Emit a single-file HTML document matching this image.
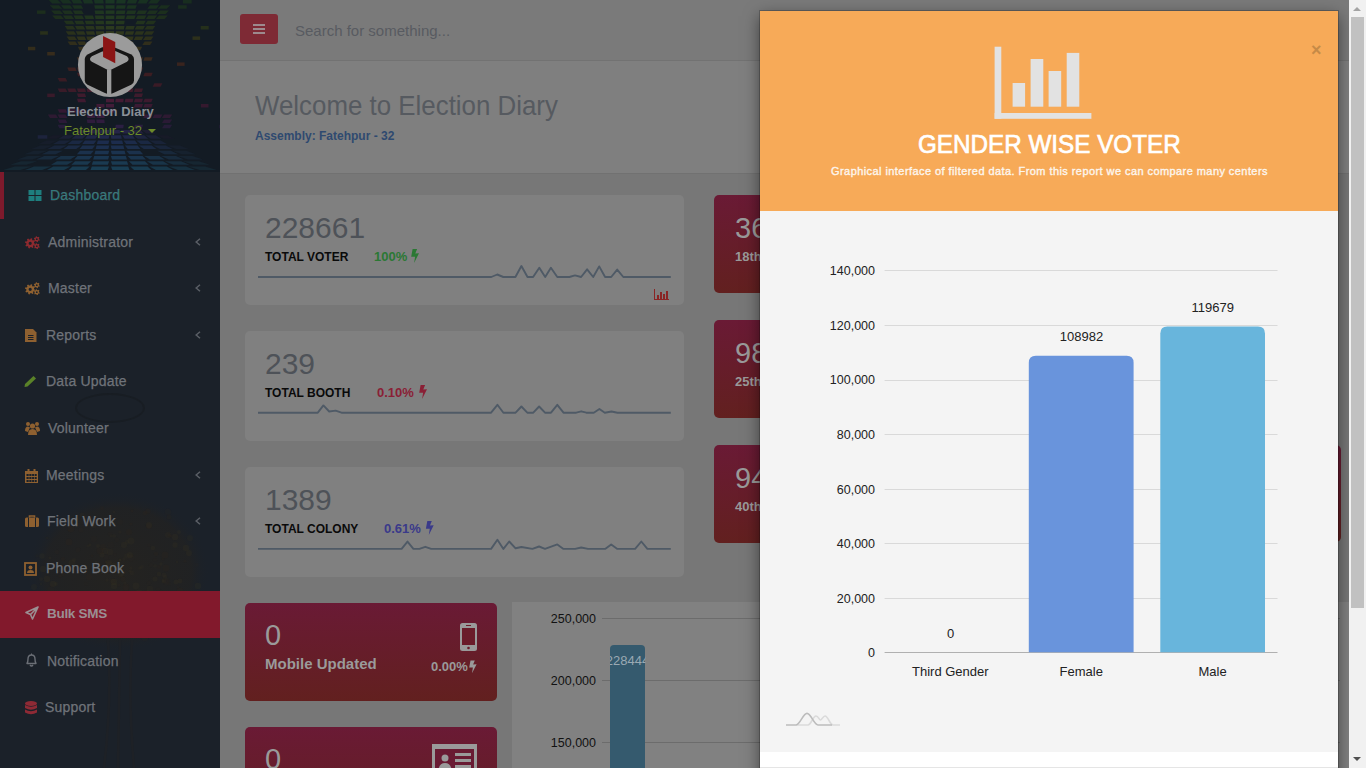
<!DOCTYPE html>
<html><head><meta charset="utf-8">
<style>
*{box-sizing:border-box;margin:0;padding:0}
html,body{width:1366px;height:768px;overflow:hidden;background:#777;font-family:"Liberation Sans",sans-serif}
.a{position:absolute}
.t{position:absolute;white-space:nowrap;line-height:1}
#side{left:0;top:0;width:220px;height:768px;background:#1b2129;overflow:hidden}
#sidehead{left:0;top:0;width:220px;height:172px;background:#131b24;overflow:hidden}
.mi{position:absolute;left:0;width:220px;height:47px}
.mt{position:absolute;font-size:14px;color:#6f7379;white-space:nowrap;line-height:1;letter-spacing:0.2px;-webkit-text-stroke:0.25px #6f7379}
.ic{position:absolute}
.chev{position:absolute;left:195px}
#hdr{left:220px;top:0;width:1129px;height:61px;background:#7a7a7a;border-bottom:1px solid #727272}
#wel{left:220px;top:61px;width:1129px;height:113px;background:#7f7f7f;border-bottom:1px solid #717171}
.card{position:absolute;background:#808080;border-radius:5px}
.red{position:absolute;border-radius:5px;background:linear-gradient(#6a1a35,#62201f)}
#modal{left:760px;top:11px;width:578px;height:770px;background:#f4f4f4;box-shadow:0 0 0 1px rgba(0,0,0,.2),0 5px 15px rgba(0,0,0,.5)}
#mh{left:0;top:0;width:578px;height:200px;background:#f7aa58}
#sb{left:1349px;top:0;width:17px;height:768px;background:#f1f1f1}
</style></head><body>
<!-- SIDEBAR -->
<div id="side" class="a">
  <div id="sidehead" class="a"><svg width="220" height="172" viewBox="0 0 220 172" style="position:absolute;left:0;top:0"><path d="M48.7 0.0h9.2l3.4 3.5h-9.2z" fill="rgb(24, 46, 32)"/><path d="M60.0 0.0h9.2l2.8 3.5h-9.2z" fill="rgb(24, 47, 32)"/><path d="M71.3 0.0h9.2l2.1 3.5h-9.2z" fill="rgb(24, 49, 33)"/><path d="M82.7 0.0h9.2l1.4 3.5h-9.2z" fill="rgb(25, 50, 34)"/><path d="M94.0 0.0h9.2l0.7 3.5h-9.2z" fill="rgb(25, 52, 35)"/><path d="M105.4 0.0h9.2l-0.0 3.5h-9.2z" fill="rgb(26, 54, 36)"/><path d="M116.7 0.0h9.2l-0.7 3.5h-9.2z" fill="rgb(25, 52, 35)"/><path d="M128.1 0.0h9.2l-1.4 3.5h-9.2z" fill="rgb(25, 50, 34)"/><path d="M139.4 0.0h9.2l-2.1 3.5h-9.2z" fill="rgb(24, 49, 33)"/><path d="M150.8 0.0h9.2l-2.8 3.5h-9.2z" fill="rgb(24, 47, 32)"/><rect x="182.9" y="0.0" width="8.8" height="3.5" fill="rgb(24, 45, 31)"/><path d="M49.8 5.2h9.1l3.4 3.5h-9.1z" fill="rgb(26, 46, 30)"/><path d="M61.0 5.2h9.1l2.7 3.5h-9.1z" fill="rgb(26, 48, 31)"/><path d="M72.1 5.2h9.1l2.0 3.5h-9.1z" fill="rgb(27, 49, 31)"/><path d="M94.3 5.2h9.1l0.7 3.5h-9.1z" fill="rgb(28, 53, 33)"/><path d="M105.5 5.2h9.1l-0.0 3.5h-9.1z" fill="rgb(29, 55, 34)"/><path d="M116.6 5.2h9.1l-0.7 3.5h-9.1z" fill="rgb(28, 53, 33)"/><path d="M127.7 5.2h9.1l-1.3 3.5h-9.1z" fill="rgb(27, 51, 32)"/><path d="M150.0 5.2h9.1l-2.7 3.5h-9.1z" fill="rgb(26, 48, 31)"/><path d="M161.1 5.2h9.1l-3.4 3.5h-9.1z" fill="rgb(26, 46, 30)"/><rect x="178.1" y="5.2" width="8.6" height="3.5" fill="rgb(26, 45, 30)"/><path d="M51.0 10.4h8.9l3.3 3.5h-8.9z" fill="rgb(28, 47, 29)"/><path d="M61.9 10.4h8.9l2.6 3.5h-8.9z" fill="rgb(29, 48, 30)"/><path d="M72.8 10.4h8.9l2.0 3.5h-8.9z" fill="rgb(30, 50, 30)"/><path d="M94.6 10.4h8.9l0.7 3.5h-8.9z" fill="rgb(31, 54, 32)"/><path d="M105.6 10.4h8.9l-0.0 3.5h-8.9z" fill="rgb(32, 56, 33)"/><path d="M116.5 10.4h8.9l-0.7 3.5h-8.9z" fill="rgb(31, 54, 32)"/><path d="M127.4 10.4h8.9l-1.3 3.5h-8.9z" fill="rgb(30, 52, 31)"/><path d="M138.3 10.4h8.9l-2.0 3.5h-8.9z" fill="rgb(30, 50, 30)"/><path d="M149.2 10.4h8.9l-2.6 3.5h-8.9z" fill="rgb(29, 48, 30)"/><path d="M160.1 10.4h8.9l-3.3 3.5h-8.9z" fill="rgb(28, 47, 29)"/><rect x="37.0" y="10.4" width="8.5" height="3.5" fill="rgb(28, 46, 29)"/><path d="M52.1 15.6h8.7l3.2 3.5h-8.7z" fill="rgb(30, 47, 28)"/><path d="M62.8 15.6h8.7l2.6 3.5h-8.7z" fill="rgb(31, 49, 29)"/><path d="M73.5 15.6h8.7l1.9 3.5h-8.7z" fill="rgb(32, 51, 29)"/><path d="M84.2 15.6h8.7l1.3 3.5h-8.7z" fill="rgb(33, 53, 30)"/><path d="M94.9 15.6h8.7l0.6 3.5h-8.7z" fill="rgb(34, 55, 31)"/><path d="M105.6 15.6h8.7l-0.0 3.5h-8.7z" fill="rgb(35, 57, 32)"/><path d="M116.3 15.6h8.7l-0.6 3.5h-8.7z" fill="rgb(34, 55, 31)"/><path d="M127.0 15.6h8.7l-1.3 3.5h-8.7z" fill="rgb(33, 53, 30)"/><path d="M137.7 15.6h8.7l-1.9 3.5h-8.7z" fill="rgb(32, 51, 29)"/><path d="M148.4 15.6h8.7l-2.6 3.5h-8.7z" fill="rgb(31, 49, 29)"/><path d="M159.1 15.6h8.7l-3.2 3.5h-8.7z" fill="rgb(30, 47, 28)"/><path d="M63.8 20.8h8.5l2.5 3.5h-8.5z" fill="rgb(33, 49, 28)"/><path d="M74.3 20.8h8.5l1.9 3.5h-8.5z" fill="rgb(34, 51, 29)"/><path d="M84.8 20.8h8.5l1.3 3.5h-8.5z" fill="rgb(35, 53, 29)"/><path d="M95.2 20.8h8.5l0.6 3.5h-8.5z" fill="rgb(36, 55, 30)"/><path d="M105.7 20.8h8.5l-0.0 3.5h-8.5z" fill="rgb(38, 58, 31)"/><path d="M116.2 20.8h8.5l-0.6 3.5h-8.5z" fill="rgb(36, 55, 30)"/><path d="M137.2 20.8h8.5l-1.9 3.5h-8.5z" fill="rgb(34, 51, 29)"/><path d="M147.7 20.8h8.5l-2.5 3.5h-8.5z" fill="rgb(33, 49, 28)"/><path d="M64.7 26.0h8.4l2.5 3.5h-8.4z" fill="rgb(38, 49, 28)"/><path d="M75.0 26.0h8.4l1.9 3.5h-8.4z" fill="rgb(39, 51, 28)"/><path d="M85.3 26.0h8.4l1.2 3.5h-8.4z" fill="rgb(41, 53, 29)"/><path d="M95.5 26.0h8.4l0.6 3.5h-8.4z" fill="rgb(42, 55, 30)"/><path d="M105.8 26.0h8.4l-0.0 3.5h-8.4z" fill="rgb(44, 58, 31)"/><path d="M116.1 26.0h8.4l-0.6 3.5h-8.4z" fill="rgb(42, 55, 30)"/><path d="M126.4 26.0h8.4l-1.2 3.5h-8.4z" fill="rgb(41, 53, 29)"/><path d="M136.6 26.0h8.4l-1.9 3.5h-8.4z" fill="rgb(39, 51, 28)"/><path d="M146.9 26.0h8.4l-2.5 3.5h-8.4z" fill="rgb(38, 49, 28)"/><rect x="200.7" y="26.0" width="8.0" height="3.5" fill="rgb(37, 48, 27)"/><path d="M65.7 31.2h8.2l2.4 3.5h-8.2z" fill="rgb(42, 49, 27)"/><path d="M75.7 31.2h8.2l1.8 3.5h-8.2z" fill="rgb(43, 51, 28)"/><path d="M85.8 31.2h8.2l1.2 3.5h-8.2z" fill="rgb(45, 53, 28)"/><path d="M95.8 31.2h8.2l0.6 3.5h-8.2z" fill="rgb(47, 55, 29)"/><path d="M105.9 31.2h8.2l-0.0 3.5h-8.2z" fill="rgb(49, 58, 30)"/><path d="M116.0 31.2h8.2l-0.6 3.5h-8.2z" fill="rgb(47, 55, 29)"/><path d="M126.0 31.2h8.2l-1.2 3.5h-8.2z" fill="rgb(45, 53, 28)"/><path d="M136.1 31.2h8.2l-1.8 3.5h-8.2z" fill="rgb(43, 51, 28)"/><path d="M146.1 31.2h8.2l-2.4 3.5h-8.2z" fill="rgb(42, 49, 27)"/><rect x="40.1" y="31.2" width="7.8" height="3.5" fill="rgb(41, 48, 27)"/><path d="M66.6 36.4h8.0l2.4 3.5h-8.0z" fill="rgb(45, 48, 27)"/><path d="M76.5 36.4h8.0l1.8 3.5h-8.0z" fill="rgb(47, 51, 27)"/><path d="M86.3 36.4h8.0l1.2 3.5h-8.0z" fill="rgb(49, 53, 28)"/><path d="M96.1 36.4h8.0l0.6 3.5h-8.0z" fill="rgb(51, 55, 29)"/><path d="M106.0 36.4h8.0l-0.0 3.5h-8.0z" fill="rgb(54, 58, 30)"/><path d="M115.8 36.4h8.0l-0.6 3.5h-8.0z" fill="rgb(51, 55, 29)"/><path d="M125.7 36.4h8.0l-1.2 3.5h-8.0z" fill="rgb(49, 53, 28)"/><path d="M135.5 36.4h8.0l-1.8 3.5h-8.0z" fill="rgb(47, 51, 27)"/><path d="M145.4 36.4h8.0l-2.4 3.5h-8.0z" fill="rgb(45, 48, 27)"/><rect x="192.5" y="36.4" width="7.6" height="3.5" fill="rgb(45, 48, 27)"/><path d="M67.6 41.6h7.8l2.3 3.5h-7.8z" fill="rgb(49, 46, 27)"/><path d="M77.2 41.6h7.8l1.8 3.5h-7.8z" fill="rgb(51, 49, 27)"/><path d="M96.5 41.6h7.8l0.6 3.5h-7.8z" fill="rgb(56, 53, 29)"/><path d="M106.1 41.6h7.8l-0.0 3.5h-7.8z" fill="rgb(59, 56, 30)"/><path d="M115.7 41.6h7.8l-0.6 3.5h-7.8z" fill="rgb(56, 53, 29)"/><path d="M125.3 41.6h7.8l-1.2 3.5h-7.8z" fill="rgb(54, 51, 28)"/><path d="M144.6 41.6h7.8l-2.3 3.5h-7.8z" fill="rgb(49, 46, 27)"/><path d="M77.9 46.8h7.7l1.7 3.5h-7.7z" fill="rgb(54, 48, 28)"/><path d="M87.3 46.8h7.7l1.1 3.5h-7.7z" fill="rgb(57, 50, 29)"/><path d="M96.8 46.8h7.7l0.6 3.5h-7.7z" fill="rgb(60, 52, 30)"/><path d="M106.2 46.8h7.7l-0.0 3.5h-7.7z" fill="rgb(63, 55, 31)"/><path d="M115.6 46.8h7.7l-0.6 3.5h-7.7z" fill="rgb(60, 52, 30)"/><path d="M125.0 46.8h7.7l-1.1 3.5h-7.7z" fill="rgb(57, 50, 29)"/><path d="M134.4 46.8h7.7l-1.7 3.5h-7.7z" fill="rgb(54, 48, 28)"/><rect x="28.0" y="46.8" width="7.3" height="3.5" fill="rgb(51, 45, 27)"/><path d="M96.3 52.0h8.0l0.4 3.5h-8.0z" fill="rgb(64, 50, 31)"/><path d="M115.7 52.0h8.0l-0.4 3.5h-8.0z" fill="rgb(64, 50, 31)"/><rect x="47.2" y="52.0" width="7.6" height="3.5" fill="rgb(55, 44, 28)"/><path d="M77.0 57.2h8.0l1.1 3.5h-8.0z" fill="rgb(60, 42, 30)"/><path d="M115.7 57.2h8.0l-0.4 3.5h-8.0z" fill="rgb(66, 46, 32)"/><path d="M135.0 57.2h8.0l-1.1 3.5h-8.0z" fill="rgb(60, 42, 30)"/><path d="M144.7 57.2h8.0l-1.4 3.5h-8.0z" fill="rgb(57, 40, 29)"/><path d="M106.0 62.4h8.0l-0.0 3.5h-8.0z" fill="rgb(70, 42, 35)"/><path d="M115.7 62.4h8.0l-0.4 3.5h-8.0z" fill="rgb(67, 40, 34)"/><rect x="177.0" y="62.4" width="7.6" height="3.5" fill="rgb(57, 36, 30)"/><path d="M67.3 67.6h8.0l1.4 3.5h-8.0z" fill="rgb(59, 32, 32)"/><path d="M77.0 67.6h8.0l1.1 3.5h-8.0z" fill="rgb(62, 33, 33)"/><path d="M96.3 67.6h8.0l0.4 3.5h-8.0z" fill="rgb(68, 35, 35)"/><path d="M115.7 67.6h8.0l-0.4 3.5h-8.0z" fill="rgb(68, 35, 35)"/><path d="M125.4 67.6h8.0l-0.7 3.5h-8.0z" fill="rgb(65, 34, 34)"/><path d="M135.0 67.6h8.0l-1.1 3.5h-8.0z" fill="rgb(62, 33, 33)"/><path d="M77.0 72.8h8.0l1.1 3.5h-8.0z" fill="rgb(62, 30, 35)"/><path d="M96.3 72.8h8.0l0.4 3.5h-8.0z" fill="rgb(68, 32, 37)"/><path d="M125.4 72.8h8.0l-0.7 3.5h-8.0z" fill="rgb(65, 31, 36)"/><path d="M144.7 72.8h8.0l-1.4 3.5h-8.0z" fill="rgb(60, 29, 34)"/><path d="M57.6 78.0h8.0l1.8 3.5h-8.0z" fill="rgb(57, 28, 36)"/><path d="M86.7 78.0h8.0l0.7 3.5h-8.0z" fill="rgb(65, 30, 39)"/><path d="M96.3 78.0h8.0l0.4 3.5h-8.0z" fill="rgb(68, 31, 40)"/><path d="M106.0 78.0h8.0l-0.0 3.5h-8.0z" fill="rgb(71, 32, 42)"/><path d="M115.7 78.0h8.0l-0.4 3.5h-8.0z" fill="rgb(68, 31, 40)"/><path d="M86.7 83.2h8.0l0.7 3.5h-8.0z" fill="rgb(65, 29, 42)"/><path d="M96.3 83.2h8.0l0.4 3.5h-8.0z" fill="rgb(68, 30, 43)"/><path d="M115.7 83.2h8.0l-0.4 3.5h-8.0z" fill="rgb(68, 30, 43)"/><path d="M154.4 83.2h8.0l-1.8 3.5h-8.0z" fill="rgb(58, 27, 38)"/><path d="M57.6 88.4h8.0l1.8 3.5h-8.0z" fill="rgb(57, 27, 40)"/><path d="M67.3 88.4h8.0l1.4 3.5h-8.0z" fill="rgb(60, 27, 41)"/><path d="M77.0 88.4h8.0l1.1 3.5h-8.0z" fill="rgb(62, 28, 42)"/><path d="M86.7 88.4h8.0l0.7 3.5h-8.0z" fill="rgb(65, 28, 44)"/><path d="M96.3 88.4h8.0l0.4 3.5h-8.0z" fill="rgb(67, 29, 45)"/><path d="M115.7 88.4h8.0l-0.4 3.5h-8.0z" fill="rgb(67, 29, 45)"/><path d="M125.4 88.4h8.0l-0.7 3.5h-8.0z" fill="rgb(65, 28, 44)"/><path d="M135.0 88.4h8.0l-1.1 3.5h-8.0z" fill="rgb(62, 28, 42)"/><path d="M77.0 93.6h8.0l1.1 3.5h-8.0z" fill="rgb(63, 27, 45)"/><path d="M135.0 93.6h8.0l-1.1 3.5h-8.0z" fill="rgb(63, 27, 45)"/><rect x="47.2" y="93.6" width="7.6" height="3.5" fill="rgb(57, 26, 42)"/><path d="M77.0 98.8h8.0l1.1 3.5h-8.0z" fill="rgb(63, 26, 48)"/><path d="M106.0 98.8h8.0l-0.0 3.5h-8.0z" fill="rgb(70, 28, 53)"/><path d="M115.7 98.8h8.0l-0.4 3.5h-8.0z" fill="rgb(67, 27, 51)"/><path d="M125.4 98.8h8.0l-0.7 3.5h-8.0z" fill="rgb(65, 27, 49)"/><path d="M135.0 98.8h8.0l-1.1 3.5h-8.0z" fill="rgb(63, 26, 48)"/><path d="M144.7 98.8h8.0l-1.4 3.5h-8.0z" fill="rgb(61, 26, 46)"/><path d="M96.3 104.0h8.0l0.4 3.5h-8.0z" fill="rgb(63, 27, 54)"/><path d="M106.0 104.0h8.0l-0.0 3.5h-8.0z" fill="rgb(65, 28, 56)"/><path d="M135.0 104.0h8.0l-1.1 3.5h-8.0z" fill="rgb(59, 26, 51)"/><path d="M144.7 104.0h8.0l-1.4 3.5h-8.0z" fill="rgb(57, 26, 49)"/><rect x="200.9" y="104.0" width="7.6" height="3.5" fill="rgb(53, 25, 46)"/><path d="M57.6 109.2h8.0l1.8 3.5h-8.0z" fill="rgb(51, 25, 50)"/><path d="M67.3 109.2h8.0l1.4 3.5h-8.0z" fill="rgb(53, 26, 52)"/><path d="M77.0 109.2h8.0l1.1 3.5h-8.0z" fill="rgb(54, 26, 54)"/><path d="M106.0 109.2h8.0l-0.0 3.5h-8.0z" fill="rgb(60, 28, 59)"/><path d="M47.9 114.4h8.0l2.1 3.5h-8.0z" fill="rgb(46, 26, 50)"/><path d="M57.6 114.4h8.0l1.8 3.5h-8.0z" fill="rgb(47, 26, 52)"/><path d="M86.7 114.4h8.0l0.7 3.5h-8.0z" fill="rgb(52, 28, 57)"/><path d="M96.3 114.4h8.0l0.4 3.5h-8.0z" fill="rgb(53, 28, 59)"/><path d="M144.7 114.4h8.0l-1.4 3.5h-8.0z" fill="rgb(49, 27, 54)"/><path d="M154.4 114.4h8.0l-1.8 3.5h-8.0z" fill="rgb(47, 26, 52)"/><path d="M164.1 114.4h8.0l-2.1 3.5h-8.0z" fill="rgb(46, 26, 50)"/><path d="M57.6 119.6h8.0l1.8 3.5h-8.0z" fill="rgb(43, 26, 55)"/><path d="M86.7 119.6h8.0l0.7 3.5h-8.0z" fill="rgb(47, 28, 60)"/><path d="M96.3 119.6h8.0l0.4 3.5h-8.0z" fill="rgb(48, 28, 62)"/><path d="M164.1 119.6h8.0l-2.1 3.5h-8.0z" fill="rgb(42, 26, 53)"/><path d="M57.6 124.8h8.0l1.8 3.5h-8.0z" fill="rgb(39, 29, 58)"/><path d="M115.7 124.8h8.0l-0.4 3.5h-8.0z" fill="rgb(43, 31, 66)"/><path d="M135.0 124.8h8.0l-1.1 3.5h-8.0z" fill="rgb(41, 30, 62)"/><path d="M164.1 124.8h8.0l-2.1 3.5h-8.0z" fill="rgb(38, 28, 56)"/><rect x="219.3" y="124.8" width="7.6" height="3.5" fill="rgb(37, 28, 55)"/><path d="M79.6 130.0h9.2l-3.4 3.5h-9.2z" fill="rgb(33, 32, 60)"/><path d="M89.9 130.0h9.2l-2.1 3.5h-9.2z" fill="rgb(36, 35, 67)"/><path d="M100.2 130.0h9.2l-0.7 3.5h-9.2z" fill="rgb(37, 36, 71)"/><path d="M110.5 130.0h9.2l0.7 3.5h-9.2z" fill="rgb(37, 36, 71)"/><path d="M120.8 130.0h9.2l2.1 3.5h-9.2z" fill="rgb(36, 35, 67)"/><path d="M131.2 130.0h9.2l3.4 3.5h-9.2z" fill="rgb(33, 32, 60)"/><path d="M141.5 130.0h9.2l4.8 3.5h-9.2z" fill="rgb(29, 29, 49)"/><path d="M52.7 135.2h10.4l-7.0 3.5h-10.4z" fill="rgb(23, 26, 39)"/><path d="M64.2 135.2h10.4l-5.4 3.5h-10.4z" fill="rgb(27, 32, 53)"/><path d="M75.8 135.2h10.4l-3.9 3.5h-10.4z" fill="rgb(30, 36, 63)"/><path d="M87.4 135.2h10.4l-2.3 3.5h-10.4z" fill="rgb(31, 39, 71)"/><path d="M99.0 135.2h10.4l-0.8 3.5h-10.4z" fill="rgb(32, 40, 74)"/><path d="M110.6 135.2h10.4l0.8 3.5h-10.4z" fill="rgb(32, 40, 74)"/><path d="M122.2 135.2h10.4l2.3 3.5h-10.4z" fill="rgb(31, 39, 71)"/><path d="M133.8 135.2h10.4l3.9 3.5h-10.4z" fill="rgb(30, 36, 63)"/><path d="M145.4 135.2h10.4l5.4 3.5h-10.4z" fill="rgb(27, 32, 53)"/><path d="M157.0 135.2h10.4l7.0 3.5h-10.4z" fill="rgb(23, 26, 39)"/><rect x="37.7" y="135.2" width="9.6" height="3.5" fill="rgb(29, 35, 60)"/><path d="M46.3 140.4h11.5l-7.7 3.5h-11.5z" fill="rgb(22, 29, 42)"/><path d="M59.2 140.4h11.5l-6.0 3.5h-11.5z" fill="rgb(25, 35, 56)"/><path d="M72.1 140.4h11.5l-4.3 3.5h-11.5z" fill="rgb(26, 40, 67)"/><path d="M84.9 140.4h11.5l-2.6 3.5h-11.5z" fill="rgb(28, 43, 74)"/><path d="M97.8 140.4h11.5l-0.9 3.5h-11.5z" fill="rgb(28, 44, 77)"/><path d="M110.7 140.4h11.5l0.9 3.5h-11.5z" fill="rgb(28, 44, 77)"/><path d="M123.5 140.4h11.5l2.6 3.5h-11.5z" fill="rgb(28, 43, 74)"/><path d="M136.4 140.4h11.5l4.3 3.5h-11.5z" fill="rgb(26, 40, 67)"/><path d="M149.3 140.4h11.5l6.0 3.5h-11.5z" fill="rgb(25, 35, 56)"/><path d="M40.0 145.6h12.7l-8.5 3.5h-12.7z" fill="rgb(22, 31, 44)"/><path d="M54.2 145.6h12.7l-6.6 3.5h-12.7z" fill="rgb(25, 37, 58)"/><path d="M68.3 145.6h12.7l-4.7 3.5h-12.7z" fill="rgb(27, 42, 68)"/><path d="M82.4 145.6h12.7l-2.8 3.5h-12.7z" fill="rgb(28, 46, 75)"/><path d="M96.6 145.6h12.7l-0.9 3.5h-12.7z" fill="rgb(28, 47, 78)"/><path d="M110.7 145.6h12.7l0.9 3.5h-12.7z" fill="rgb(28, 47, 78)"/><path d="M124.9 145.6h12.7l2.8 3.5h-12.7z" fill="rgb(28, 46, 75)"/><path d="M139.0 145.6h12.7l4.7 3.5h-12.7z" fill="rgb(27, 42, 68)"/><path d="M153.2 145.6h12.7l6.6 3.5h-12.7z" fill="rgb(25, 37, 58)"/><path d="M167.3 145.6h12.7l8.5 3.5h-12.7z" fill="rgb(22, 31, 44)"/><path d="M33.7 150.8h13.8l-9.3 3.5h-13.8z" fill="rgb(22, 33, 46)"/><path d="M49.1 150.8h13.8l-7.2 3.5h-13.8z" fill="rgb(24, 40, 59)"/><path d="M80.0 150.8h13.8l-3.1 3.5h-13.8z" fill="rgb(27, 49, 76)"/><path d="M95.4 150.8h13.8l-1.0 3.5h-13.8z" fill="rgb(27, 51, 79)"/><path d="M110.8 150.8h13.8l1.0 3.5h-13.8z" fill="rgb(27, 51, 79)"/><path d="M126.2 150.8h13.8l3.1 3.5h-13.8z" fill="rgb(27, 49, 76)"/><path d="M157.1 150.8h13.8l7.2 3.5h-13.8z" fill="rgb(24, 40, 59)"/><path d="M172.5 150.8h13.8l9.3 3.5h-13.8z" fill="rgb(22, 33, 46)"/><path d="M27.4 156.0h15.0l-10.0 3.5h-15.0z" fill="rgb(22, 35, 48)"/><path d="M44.1 156.0h15.0l-7.8 3.5h-15.0z" fill="rgb(24, 43, 61)"/><path d="M60.8 156.0h15.0l-5.6 3.5h-15.0z" fill="rgb(25, 49, 70)"/><path d="M77.5 156.0h15.0l-3.3 3.5h-15.0z" fill="rgb(26, 52, 77)"/><path d="M94.2 156.0h15.0l-1.1 3.5h-15.0z" fill="rgb(26, 54, 80)"/><path d="M110.9 156.0h15.0l1.1 3.5h-15.0z" fill="rgb(26, 54, 80)"/><path d="M127.6 156.0h15.0l3.3 3.5h-15.0z" fill="rgb(26, 52, 77)"/><path d="M144.3 156.0h15.0l5.6 3.5h-15.0z" fill="rgb(25, 49, 70)"/><path d="M161.0 156.0h15.0l7.8 3.5h-15.0z" fill="rgb(24, 43, 61)"/><path d="M177.7 156.0h15.0l10.0 3.5h-15.0z" fill="rgb(22, 35, 48)"/><path d="M21.1 161.2h16.1l-10.8 3.5h-16.1z" fill="rgb(22, 38, 49)"/><path d="M57.0 161.2h16.1l-6.0 3.5h-16.1z" fill="rgb(25, 52, 72)"/><path d="M75.0 161.2h16.1l-3.6 3.5h-16.1z" fill="rgb(26, 56, 78)"/><path d="M93.0 161.2h16.1l-1.2 3.5h-16.1z" fill="rgb(26, 58, 81)"/><path d="M110.9 161.2h16.1l1.2 3.5h-16.1z" fill="rgb(26, 58, 81)"/><path d="M128.9 161.2h16.1l3.6 3.5h-16.1z" fill="rgb(26, 56, 78)"/><path d="M146.9 161.2h16.1l6.0 3.5h-16.1z" fill="rgb(25, 52, 72)"/><path d="M164.9 161.2h16.1l8.4 3.5h-16.1z" fill="rgb(24, 46, 62)"/><path d="M182.8 161.2h16.1l10.8 3.5h-16.1z" fill="rgb(22, 38, 49)"/><path d="M14.8 166.4h17.2l-11.5 3.5h-17.2z" fill="rgb(22, 40, 51)"/><path d="M34.0 166.4h17.2l-9.0 3.5h-17.2z" fill="rgb(23, 48, 63)"/><path d="M53.3 166.4h17.2l-6.4 3.5h-17.2z" fill="rgb(24, 55, 73)"/><path d="M72.5 166.4h17.2l-3.8 3.5h-17.2z" fill="rgb(25, 59, 79)"/><path d="M91.8 166.4h17.2l-1.3 3.5h-17.2z" fill="rgb(25, 61, 82)"/><path d="M111.0 166.4h17.2l1.3 3.5h-17.2z" fill="rgb(25, 61, 82)"/><path d="M130.3 166.4h17.2l3.8 3.5h-17.2z" fill="rgb(25, 59, 79)"/><path d="M149.5 166.4h17.2l6.4 3.5h-17.2z" fill="rgb(24, 55, 73)"/><path d="M168.8 166.4h17.2l9.0 3.5h-17.2z" fill="rgb(23, 48, 63)"/><path d="M188.0 166.4h17.2l11.5 3.5h-17.2z" fill="rgb(22, 40, 51)"/></svg>
    <svg class="a" style="left:74px;top:28px" width="72" height="72" viewBox="0 0 768 768">
      <circle cx="384" cy="395" r="342" fill="#9b9b9b"/>
      <path d="M300 205 L150 280 Q115 298 115 335 L115 560 Q115 590 145 605 L330 692 Q375 712 420 692 L610 605 Q640 590 640 560 L640 335 Q640 298 605 280 L440 210 Z" fill="#151515"/>
      <path d="M300 250 L190 300 Q150 330 190 360 L345 440 Q375 455 405 440 L565 360 Q600 330 565 300 L440 245 Z" fill="#9b9b9b"/>
      <rect x="352" y="440" width="46" height="265" fill="#9b9b9b"/>
      <path d="M310 85 L440 150 L440 375 L310 310 Z" fill="#8b1515"/>
    </svg>
  </div>
  <div class="t" style="left:67px;top:105px;font-size:13px;font-weight:bold;color:#8a9097">Election Diary</div>
  <div class="t" style="left:64px;top:124px;font-size:13px;color:#6c8a2a">Fatehpur - 32 <span style="display:inline-block;width:0;height:0;border-left:4px solid transparent;border-right:4px solid transparent;border-top:4px solid #6c8a2a;vertical-align:2px;margin-left:2px"></span></div>

  <svg class="a" style="left:0;top:440px" width="220" height="328" viewBox="0 440 220 328"><defs><radialGradient id="tr" cx="0.5" cy="0.5" r="0.5"><stop offset="0" stop-color="#25231f" stop-opacity="0.9"/><stop offset="0.8" stop-color="#24221f" stop-opacity="0.6"/><stop offset="1" stop-color="#1b2129" stop-opacity="0"/></radialGradient></defs><ellipse cx="118" cy="572" rx="92" ry="80" fill="url(#tr)"/><circle cx="122" cy="622" r="2.1" fill="#3d3522" opacity="0.18"/><circle cx="106" cy="562" r="1.2" fill="#3d3522" opacity="0.18"/><circle cx="116" cy="601" r="3.5" fill="#3d3522" opacity="0.18"/><circle cx="63" cy="559" r="2.1" fill="#33291d" opacity="0.18"/><circle cx="121" cy="595" r="3.3" fill="#3d3522" opacity="0.18"/><circle cx="114" cy="512" r="1.3" fill="#3a3020" opacity="0.18"/><circle cx="114" cy="582" r="3.2" fill="#3d3522" opacity="0.18"/><circle cx="58" cy="618" r="2.2" fill="#3d3522" opacity="0.18"/><circle cx="142" cy="567" r="2.0" fill="#3a3020" opacity="0.18"/><circle cx="139" cy="593" r="3.4" fill="#3d3522" opacity="0.18"/><circle cx="43" cy="608" r="2.5" fill="#3d3522" opacity="0.18"/><circle cx="105" cy="551" r="3.2" fill="#3a3020" opacity="0.18"/><circle cx="111" cy="545" r="3.1" fill="#2c2720" opacity="0.18"/><circle cx="114" cy="586" r="3.2" fill="#3d3522" opacity="0.18"/><circle cx="187" cy="610" r="2.1" fill="#33291d" opacity="0.18"/><circle cx="165" cy="577" r="2.2" fill="#3a3020" opacity="0.18"/><circle cx="178" cy="587" r="1.3" fill="#2c2720" opacity="0.18"/><circle cx="112" cy="601" r="1.3" fill="#3a3020" opacity="0.18"/><circle cx="172" cy="597" r="1.3" fill="#33291d" opacity="0.18"/><circle cx="155" cy="566" r="1.8" fill="#3a3020" opacity="0.18"/><circle cx="159" cy="567" r="2.0" fill="#33291d" opacity="0.18"/><circle cx="153" cy="548" r="2.3" fill="#3d3522" opacity="0.18"/><circle cx="81" cy="530" r="2.5" fill="#2c2720" opacity="0.18"/><circle cx="53" cy="599" r="1.7" fill="#2c2720" opacity="0.18"/><circle cx="86" cy="584" r="1.9" fill="#2c2720" opacity="0.18"/><circle cx="164" cy="575" r="2.5" fill="#3a3020" opacity="0.18"/><circle cx="75" cy="609" r="1.5" fill="#2c2720" opacity="0.18"/><circle cx="52" cy="585" r="2.0" fill="#2c2720" opacity="0.18"/><circle cx="117" cy="564" r="1.3" fill="#3a3020" opacity="0.18"/><circle cx="151" cy="565" r="2.2" fill="#2c2720" opacity="0.18"/><circle cx="131" cy="595" r="2.9" fill="#2c2720" opacity="0.18"/><circle cx="104" cy="609" r="3.0" fill="#3a3020" opacity="0.18"/><circle cx="185" cy="561" r="1.5" fill="#33291d" opacity="0.18"/><circle cx="98" cy="546" r="2.0" fill="#3d3522" opacity="0.18"/><circle cx="106" cy="557" r="2.6" fill="#2c2720" opacity="0.18"/><circle cx="103" cy="547" r="3.1" fill="#33291d" opacity="0.18"/><circle cx="183" cy="604" r="1.7" fill="#3d3522" opacity="0.18"/><circle cx="108" cy="642" r="1.3" fill="#33291d" opacity="0.18"/><circle cx="73" cy="635" r="1.4" fill="#2c2720" opacity="0.18"/><circle cx="78" cy="550" r="2.4" fill="#2c2720" opacity="0.18"/><circle cx="56" cy="584" r="1.9" fill="#3d3522" opacity="0.18"/><circle cx="163" cy="581" r="1.7" fill="#3d3522" opacity="0.18"/><circle cx="166" cy="568" r="3.4" fill="#33291d" opacity="0.18"/><circle cx="167" cy="581" r="2.9" fill="#2c2720" opacity="0.18"/><circle cx="140" cy="568" r="1.8" fill="#3a3020" opacity="0.18"/><circle cx="175" cy="537" r="3.3" fill="#3d3522" opacity="0.18"/><circle cx="112" cy="569" r="2.9" fill="#33291d" opacity="0.18"/><circle cx="85" cy="571" r="1.2" fill="#3d3522" opacity="0.18"/><circle cx="136" cy="586" r="3.4" fill="#3d3522" opacity="0.18"/><circle cx="124" cy="559" r="1.7" fill="#3a3020" opacity="0.18"/><circle cx="37" cy="556" r="1.6" fill="#2c2720" opacity="0.18"/><circle cx="190" cy="538" r="3.1" fill="#3a3020" opacity="0.18"/><circle cx="60" cy="576" r="2.1" fill="#2c2720" opacity="0.18"/><circle cx="119" cy="627" r="2.4" fill="#3a3020" opacity="0.18"/><circle cx="41" cy="584" r="1.2" fill="#3a3020" opacity="0.18"/><circle cx="120" cy="560" r="1.3" fill="#3d3522" opacity="0.18"/><circle cx="164" cy="596" r="1.9" fill="#2c2720" opacity="0.18"/><circle cx="158" cy="589" r="2.1" fill="#2c2720" opacity="0.18"/><circle cx="99" cy="592" r="2.0" fill="#3a3020" opacity="0.18"/><circle cx="121" cy="574" r="2.9" fill="#3a3020" opacity="0.18"/><circle cx="106" cy="567" r="2.3" fill="#3d3522" opacity="0.18"/><circle cx="109" cy="563" r="3.2" fill="#3a3020" opacity="0.18"/><circle cx="81" cy="606" r="2.8" fill="#3d3522" opacity="0.18"/><circle cx="163" cy="559" r="1.2" fill="#33291d" opacity="0.18"/><circle cx="50" cy="558" r="1.4" fill="#3d3522" opacity="0.18"/><circle cx="122" cy="593" r="1.3" fill="#2c2720" opacity="0.18"/><circle cx="127" cy="542" r="2.3" fill="#3a3020" opacity="0.18"/><circle cx="186" cy="548" r="3.2" fill="#3d3522" opacity="0.18"/><circle cx="82" cy="515" r="2.5" fill="#3a3020" opacity="0.18"/><circle cx="145" cy="513" r="2.3" fill="#33291d" opacity="0.18"/><circle cx="120" cy="560" r="1.4" fill="#3a3020" opacity="0.18"/><circle cx="94" cy="539" r="3.1" fill="#2c2720" opacity="0.18"/><circle cx="130" cy="555" r="3.1" fill="#3d3522" opacity="0.18"/><circle cx="47" cy="538" r="1.3" fill="#33291d" opacity="0.18"/><circle cx="177" cy="613" r="3.3" fill="#3a3020" opacity="0.18"/><circle cx="126" cy="587" r="3.5" fill="#33291d" opacity="0.18"/><circle cx="51" cy="590" r="3.4" fill="#2c2720" opacity="0.18"/><circle cx="88" cy="602" r="2.0" fill="#3d3522" opacity="0.18"/><circle cx="161" cy="564" r="1.7" fill="#3d3522" opacity="0.18"/><circle cx="68" cy="598" r="2.5" fill="#3d3522" opacity="0.18"/><circle cx="143" cy="606" r="3.2" fill="#33291d" opacity="0.18"/><circle cx="180" cy="610" r="3.3" fill="#3d3522" opacity="0.18"/><circle cx="167" cy="622" r="1.5" fill="#2c2720" opacity="0.18"/><circle cx="42" cy="556" r="2.7" fill="#3d3522" opacity="0.18"/><circle cx="69" cy="542" r="3.5" fill="#33291d" opacity="0.18"/><circle cx="105" cy="602" r="3.0" fill="#33291d" opacity="0.18"/><circle cx="138" cy="605" r="1.9" fill="#33291d" opacity="0.18"/><circle cx="57" cy="602" r="2.8" fill="#33291d" opacity="0.18"/><circle cx="34" cy="587" r="3.1" fill="#3a3020" opacity="0.18"/><circle cx="47" cy="579" r="3.2" fill="#3d3522" opacity="0.18"/><circle cx="168" cy="535" r="3.0" fill="#3a3020" opacity="0.18"/><circle cx="119" cy="598" r="1.8" fill="#33291d" opacity="0.18"/><circle cx="69" cy="530" r="1.3" fill="#2c2720" opacity="0.18"/><circle cx="125" cy="583" r="1.6" fill="#3a3020" opacity="0.18"/><circle cx="115" cy="555" r="1.4" fill="#2c2720" opacity="0.18"/><circle cx="166" cy="582" r="2.9" fill="#2c2720" opacity="0.18"/><circle cx="159" cy="574" r="2.2" fill="#3d3522" opacity="0.18"/><circle cx="175" cy="599" r="2.9" fill="#3d3522" opacity="0.18"/><circle cx="74" cy="604" r="1.5" fill="#2c2720" opacity="0.18"/><circle cx="161" cy="592" r="2.2" fill="#2c2720" opacity="0.18"/><circle cx="64" cy="621" r="2.9" fill="#2c2720" opacity="0.18"/><circle cx="83" cy="521" r="3.4" fill="#2c2720" opacity="0.18"/><circle cx="87" cy="616" r="2.4" fill="#3d3522" opacity="0.18"/><circle cx="102" cy="571" r="1.9" fill="#33291d" opacity="0.18"/><circle cx="74" cy="521" r="1.5" fill="#2c2720" opacity="0.18"/><circle cx="169" cy="535" r="1.5" fill="#33291d" opacity="0.18"/><circle cx="175" cy="545" r="2.7" fill="#3d3522" opacity="0.18"/><circle cx="57" cy="552" r="2.3" fill="#2c2720" opacity="0.18"/><circle cx="132" cy="511" r="1.4" fill="#33291d" opacity="0.18"/><circle cx="120" cy="522" r="2.9" fill="#2c2720" opacity="0.18"/><circle cx="147" cy="591" r="1.3" fill="#33291d" opacity="0.18"/><circle cx="169" cy="584" r="1.8" fill="#2c2720" opacity="0.18"/><circle cx="40" cy="595" r="1.4" fill="#3d3522" opacity="0.18"/><circle cx="131" cy="556" r="1.8" fill="#3a3020" opacity="0.18"/><circle cx="94" cy="525" r="3.3" fill="#3a3020" opacity="0.18"/><circle cx="130" cy="596" r="2.2" fill="#3d3522" opacity="0.18"/><circle cx="148" cy="511" r="2.6" fill="#33291d" opacity="0.18"/><circle cx="169" cy="517" r="2.5" fill="#33291d" opacity="0.18"/><circle cx="91" cy="561" r="1.8" fill="#2c2720" opacity="0.18"/><circle cx="198" cy="586" r="3.2" fill="#3d3522" opacity="0.18"/><circle cx="99" cy="616" r="2.4" fill="#2c2720" opacity="0.18"/><circle cx="171" cy="536" r="1.3" fill="#33291d" opacity="0.18"/><circle cx="118" cy="569" r="3.0" fill="#33291d" opacity="0.18"/><circle cx="63" cy="574" r="2.3" fill="#33291d" opacity="0.18"/><circle cx="124" cy="545" r="3.1" fill="#3d3522" opacity="0.18"/><circle cx="146" cy="593" r="2.7" fill="#33291d" opacity="0.18"/><circle cx="171" cy="625" r="2.6" fill="#3a3020" opacity="0.18"/><circle cx="180" cy="581" r="2.4" fill="#3d3522" opacity="0.18"/><circle cx="110" cy="552" r="3.2" fill="#3a3020" opacity="0.18"/><circle cx="102" cy="508" r="2.0" fill="#33291d" opacity="0.18"/><circle cx="48" cy="598" r="2.3" fill="#3a3020" opacity="0.18"/><circle cx="129" cy="532" r="3.1" fill="#33291d" opacity="0.18"/><circle cx="78" cy="601" r="1.4" fill="#3d3522" opacity="0.18"/><circle cx="131" cy="617" r="1.3" fill="#3d3522" opacity="0.18"/><circle cx="120" cy="532" r="1.6" fill="#3a3020" opacity="0.18"/><circle cx="110" cy="534" r="2.1" fill="#2c2720" opacity="0.18"/><circle cx="92" cy="556" r="1.2" fill="#33291d" opacity="0.18"/><circle cx="116" cy="610" r="3.2" fill="#33291d" opacity="0.18"/><circle cx="123" cy="579" r="2.5" fill="#33291d" opacity="0.18"/><circle cx="102" cy="555" r="2.6" fill="#3d3522" opacity="0.18"/><circle cx="102" cy="573" r="1.3" fill="#3d3522" opacity="0.18"/><circle cx="113" cy="581" r="2.8" fill="#33291d" opacity="0.18"/><circle cx="81" cy="595" r="1.3" fill="#33291d" opacity="0.18"/><circle cx="120" cy="612" r="1.6" fill="#2c2720" opacity="0.18"/><circle cx="88" cy="546" r="1.5" fill="#3a3020" opacity="0.18"/><circle cx="131" cy="541" r="3.5" fill="#3d3522" opacity="0.18"/><circle cx="60" cy="576" r="1.3" fill="#2c2720" opacity="0.18"/><circle cx="90" cy="545" r="1.4" fill="#3d3522" opacity="0.18"/><circle cx="177" cy="562" r="1.2" fill="#3a3020" opacity="0.18"/><circle cx="114" cy="565" r="2.4" fill="#3d3522" opacity="0.18"/><circle cx="180" cy="591" r="3.3" fill="#33291d" opacity="0.18"/><circle cx="179" cy="532" r="2.0" fill="#3d3522" opacity="0.18"/><circle cx="155" cy="579" r="2.6" fill="#3d3522" opacity="0.18"/><circle cx="150" cy="589" r="3.2" fill="#3a3020" opacity="0.18"/><circle cx="61" cy="570" r="2.4" fill="#3d3522" opacity="0.18"/><circle cx="152" cy="630" r="2.9" fill="#2c2720" opacity="0.18"/><circle cx="156" cy="554" r="2.2" fill="#33291d" opacity="0.18"/><circle cx="52" cy="593" r="2.0" fill="#33291d" opacity="0.18"/><circle cx="43" cy="569" r="3.3" fill="#3d3522" opacity="0.18"/><circle cx="131" cy="568" r="1.6" fill="#3a3020" opacity="0.18"/><circle cx="127" cy="556" r="2.8" fill="#3a3020" opacity="0.18"/><circle cx="92" cy="621" r="3.0" fill="#3a3020" opacity="0.18"/><circle cx="114" cy="536" r="2.1" fill="#3a3020" opacity="0.18"/><circle cx="145" cy="638" r="3.3" fill="#2c2720" opacity="0.18"/><circle cx="98" cy="564" r="1.4" fill="#33291d" opacity="0.18"/><circle cx="119" cy="585" r="1.6" fill="#33291d" opacity="0.18"/><circle cx="112" cy="569" r="1.7" fill="#33291d" opacity="0.18"/><circle cx="129" cy="623" r="2.2" fill="#2c2720" opacity="0.18"/><circle cx="131" cy="524" r="1.6" fill="#33291d" opacity="0.18"/><circle cx="109" cy="564" r="3.1" fill="#3a3020" opacity="0.18"/><circle cx="131" cy="558" r="3.4" fill="#2c2720" opacity="0.18"/><circle cx="161" cy="595" r="1.7" fill="#3a3020" opacity="0.18"/><circle cx="70" cy="519" r="3.2" fill="#2c2720" opacity="0.18"/><circle cx="64" cy="606" r="3.0" fill="#2c2720" opacity="0.18"/><circle cx="149" cy="526" r="3.1" fill="#33291d" opacity="0.18"/><circle cx="122" cy="575" r="1.9" fill="#3a3020" opacity="0.18"/><circle cx="102" cy="594" r="2.9" fill="#2c2720" opacity="0.18"/><circle cx="60" cy="599" r="2.6" fill="#33291d" opacity="0.18"/><circle cx="149" cy="583" r="2.2" fill="#2c2720" opacity="0.18"/><circle cx="123" cy="596" r="3.3" fill="#33291d" opacity="0.18"/><circle cx="72" cy="563" r="3.4" fill="#3d3522" opacity="0.18"/><circle cx="41" cy="579" r="2.1" fill="#3a3020" opacity="0.18"/><circle cx="126" cy="588" r="2.9" fill="#2c2720" opacity="0.18"/><circle cx="102" cy="572" r="2.3" fill="#33291d" opacity="0.18"/><circle cx="117" cy="540" r="2.2" fill="#2c2720" opacity="0.18"/><circle cx="89" cy="577" r="3.0" fill="#33291d" opacity="0.18"/><circle cx="148" cy="592" r="2.1" fill="#3a3020" opacity="0.18"/><circle cx="132" cy="616" r="3.1" fill="#2c2720" opacity="0.18"/><circle cx="149" cy="545" r="1.6" fill="#2c2720" opacity="0.18"/><circle cx="165" cy="555" r="3.5" fill="#33291d" opacity="0.18"/><circle cx="107" cy="616" r="3.2" fill="#2c2720" opacity="0.18"/><circle cx="110" cy="571" r="2.6" fill="#33291d" opacity="0.18"/><circle cx="92" cy="567" r="1.3" fill="#33291d" opacity="0.18"/><circle cx="197" cy="565" r="2.0" fill="#2c2720" opacity="0.18"/><circle cx="130" cy="571" r="1.6" fill="#3a3020" opacity="0.18"/><circle cx="149" cy="525" r="3.1" fill="#3d3522" opacity="0.18"/><circle cx="105" cy="600" r="3.0" fill="#3d3522" opacity="0.18"/><circle cx="111" cy="536" r="1.3" fill="#3a3020" opacity="0.18"/><circle cx="71" cy="529" r="3.3" fill="#33291d" opacity="0.18"/><circle cx="189" cy="553" r="3.1" fill="#3d3522" opacity="0.18"/><circle cx="33" cy="568" r="2.5" fill="#2c2720" opacity="0.18"/><circle cx="132" cy="573" r="2.3" fill="#3a3020" opacity="0.18"/><circle cx="53" cy="584" r="3.3" fill="#3d3522" opacity="0.18"/><circle cx="74" cy="613" r="1.9" fill="#3a3020" opacity="0.18"/><circle cx="74" cy="560" r="2.0" fill="#3d3522" opacity="0.18"/><circle cx="112" cy="602" r="1.9" fill="#33291d" opacity="0.18"/><circle cx="96" cy="562" r="1.3" fill="#3d3522" opacity="0.18"/><circle cx="168" cy="512" r="3.3" fill="#2c2720" opacity="0.18"/><circle cx="176" cy="582" r="2.5" fill="#3d3522" opacity="0.18"/><circle cx="174" cy="622" r="2.9" fill="#2c2720" opacity="0.18"/><circle cx="172" cy="608" r="2.1" fill="#3d3522" opacity="0.18"/><circle cx="100" cy="551" r="3.3" fill="#33291d" opacity="0.18"/><circle cx="107" cy="580" r="1.7" fill="#3a3020" opacity="0.18"/><circle cx="155" cy="560" r="2.1" fill="#2c2720" opacity="0.18"/><circle cx="164" cy="581" r="2.2" fill="#3a3020" opacity="0.18"/><path d="M108 640 Q112 700 104 768 M120 640 L118 768 M132 640 Q128 700 134 768" stroke="#1e2126" stroke-width="2.5" fill="none"/></svg>
  <div class="a" style="left:0;top:172px;width:4px;height:47px;background:#7e1a2c"></div>
  <div class="a" style="left:0;top:591px;width:220px;height:47px;background:#82192c"></div>
  <div class="a" style="left:75px;top:393px;width:70px;height:30px;border:2px solid #181d23;border-radius:50%"></div>

  <!-- icons -->
  <svg class="ic" style="left:28px;top:189px" width="14" height="12" viewBox="0 0 14 12"><rect x="0.5" y="1" width="6" height="5" fill="#1e7e7e"/><rect x="7.5" y="1" width="6" height="5" fill="#1e7e7e"/><rect x="0.5" y="7" width="6" height="5" fill="#1e7e7e"/><rect x="7.5" y="7" width="6" height="5" fill="#1e7e7e"/></svg>
  <div class="mt" style="left:50px;top:188px;color:#1f7d7f">Dashboard</div>

  <svg class="ic" style="left:25px;top:236px" width="15" height="13" viewBox="0 0 15 13"><path d="M9.10 7.30 L10.36 7.91 L10.00 9.29 L8.60 9.21 L7.96 10.06 L8.42 11.38 L7.19 12.10 L6.26 11.05 L5.20 11.20 L4.59 12.46 L3.21 12.10 L3.29 10.70 L2.44 10.06 L1.12 10.52 L0.40 9.29 L1.45 8.36 L1.30 7.30 L0.04 6.69 L0.40 5.31 L1.80 5.39 L2.44 4.54 L1.98 3.22 L3.21 2.50 L4.14 3.55 L5.20 3.40 L5.81 2.14 L7.19 2.50 L7.11 3.90 L7.96 4.54 L9.28 4.08 L10.00 5.31 L8.95 6.24Z M6.80 7.30 A1.6 1.6 0 1 0 3.60 7.30 A1.6 1.6 0 1 0 6.80 7.30Z M14.00 3.20 L14.76 3.67 L14.40 4.70 L13.51 4.58 L12.90 5.11 L12.88 6.00 L11.80 6.20 L11.46 5.37 L10.70 5.11 L9.91 5.53 L9.20 4.70 L9.75 3.99 L9.60 3.20 L8.84 2.73 L9.20 1.70 L10.09 1.82 L10.70 1.29 L10.72 0.40 L11.80 0.20 L12.14 1.03 L12.90 1.29 L13.69 0.87 L14.40 1.70 L13.85 2.41Z M12.70 3.20 A0.9 0.9 0 1 0 10.90 3.20 A0.9 0.9 0 1 0 12.70 3.20Z M14.00 10.20 L14.76 10.67 L14.40 11.70 L13.51 11.58 L12.90 12.11 L12.88 13.00 L11.80 13.20 L11.46 12.37 L10.70 12.11 L9.91 12.53 L9.20 11.70 L9.75 10.99 L9.60 10.20 L8.84 9.73 L9.20 8.70 L10.09 8.82 L10.70 8.29 L10.72 7.40 L11.80 7.20 L12.14 8.03 L12.90 8.29 L13.69 7.87 L14.40 8.70 L13.85 9.41Z M12.70 10.20 A0.9 0.9 0 1 0 10.90 10.20 A0.9 0.9 0 1 0 12.70 10.20Z" fill="#8e2a2f" fill-rule="evenodd"/></svg>
  <div class="mt" style="left:48px;top:235px">Administrator</div>
  <svg class="chev" style="top:238px" width="6" height="8" viewBox="0 0 6 8"><path d="M5 0.8 L1.2 4 L5 7.2" fill="none" stroke="#5b5f66" stroke-width="1.5"/></svg>

  <svg class="ic" style="left:25px;top:282px" width="15" height="13" viewBox="0 0 15 13"><path d="M9.10 7.30 L10.36 7.91 L10.00 9.29 L8.60 9.21 L7.96 10.06 L8.42 11.38 L7.19 12.10 L6.26 11.05 L5.20 11.20 L4.59 12.46 L3.21 12.10 L3.29 10.70 L2.44 10.06 L1.12 10.52 L0.40 9.29 L1.45 8.36 L1.30 7.30 L0.04 6.69 L0.40 5.31 L1.80 5.39 L2.44 4.54 L1.98 3.22 L3.21 2.50 L4.14 3.55 L5.20 3.40 L5.81 2.14 L7.19 2.50 L7.11 3.90 L7.96 4.54 L9.28 4.08 L10.00 5.31 L8.95 6.24Z M6.80 7.30 A1.6 1.6 0 1 0 3.60 7.30 A1.6 1.6 0 1 0 6.80 7.30Z M14.00 3.20 L14.76 3.67 L14.40 4.70 L13.51 4.58 L12.90 5.11 L12.88 6.00 L11.80 6.20 L11.46 5.37 L10.70 5.11 L9.91 5.53 L9.20 4.70 L9.75 3.99 L9.60 3.20 L8.84 2.73 L9.20 1.70 L10.09 1.82 L10.70 1.29 L10.72 0.40 L11.80 0.20 L12.14 1.03 L12.90 1.29 L13.69 0.87 L14.40 1.70 L13.85 2.41Z M12.70 3.20 A0.9 0.9 0 1 0 10.90 3.20 A0.9 0.9 0 1 0 12.70 3.20Z M14.00 10.20 L14.76 10.67 L14.40 11.70 L13.51 11.58 L12.90 12.11 L12.88 13.00 L11.80 13.20 L11.46 12.37 L10.70 12.11 L9.91 12.53 L9.20 11.70 L9.75 10.99 L9.60 10.20 L8.84 9.73 L9.20 8.70 L10.09 8.82 L10.70 8.29 L10.72 7.40 L11.80 7.20 L12.14 8.03 L12.90 8.29 L13.69 7.87 L14.40 8.70 L13.85 9.41Z M12.70 10.20 A0.9 0.9 0 1 0 10.90 10.20 A0.9 0.9 0 1 0 12.70 10.20Z" fill="#8e6030" fill-rule="evenodd"/></svg>
  <div class="mt" style="left:48px;top:281px">Master</div>
  <svg class="chev" style="top:284px" width="6" height="8" viewBox="0 0 6 8"><path d="M5 0.8 L1.2 4 L5 7.2" fill="none" stroke="#5b5f66" stroke-width="1.5"/></svg>

  <svg class="ic" style="left:25px;top:329px" width="12" height="13" viewBox="0 0 12 13"><path d="M0 0 H8 L11.5 3.5 V13 H0 Z" fill="#8e6030"/><rect x="3" y="6" width="5.5" height="1" fill="#1b2129"/><rect x="3" y="8" width="5.5" height="1" fill="#1b2129"/><rect x="3" y="10" width="5.5" height="1" fill="#1b2129"/></svg>
  <div class="mt" style="left:46px;top:328px">Reports</div>
  <svg class="chev" style="top:331px" width="6" height="8" viewBox="0 0 6 8"><path d="M5 0.8 L1.2 4 L5 7.2" fill="none" stroke="#5b5f66" stroke-width="1.5"/></svg>

  <svg class="ic" style="left:24px;top:375px" width="13" height="12" viewBox="0 0 13 12"><path d="M1 9 L9.5 1 L12 3.5 L3.5 11.5 L0.5 12 Z" fill="#5a8228"/></svg>
  <div class="mt" style="left:46px;top:374px">Data Update</div>

  <svg class="ic" style="left:25px;top:421px" width="15" height="14" viewBox="0 0 15 14"><circle cx="7.5" cy="5" r="2.6" fill="#8e6030"/><circle cx="3" cy="3" r="2" fill="#8e6030"/><circle cx="12" cy="3" r="2" fill="#8e6030"/><path d="M3 14 Q3 8 7.5 8 Q12 8 12 14 Z" fill="#8e6030"/><path d="M0 10 Q0 5.5 3 5.5 L5 6.5 L3 11 Z" fill="#8e6030"/><path d="M15 10 Q15 5.5 12 5.5 L10 6.5 L12 11 Z" fill="#8e6030"/></svg>
  <div class="mt" style="left:48px;top:421px">Volunteer</div>

  <svg class="ic" style="left:25px;top:469px" width="13" height="14" viewBox="0 0 13 14"><rect x="0" y="2" width="13" height="12" fill="#8e6030"/><rect x="2.5" y="0" width="2" height="3" fill="#8e6030"/><rect x="8.5" y="0" width="2" height="3" fill="#8e6030"/><g fill="#1b2129"><rect x="1.5" y="5" width="2.2" height="2"/><rect x="4.3" y="5" width="2.2" height="2"/><rect x="7.1" y="5" width="2.2" height="2"/><rect x="9.9" y="5" width="1.8" height="2"/><rect x="1.5" y="8" width="2.2" height="2"/><rect x="4.3" y="8" width="2.2" height="2"/><rect x="7.1" y="8" width="2.2" height="2"/><rect x="9.9" y="8" width="1.8" height="2"/><rect x="1.5" y="11" width="2.2" height="2"/><rect x="4.3" y="11" width="2.2" height="2"/><rect x="7.1" y="11" width="2.2" height="2"/><rect x="9.9" y="11" width="1.8" height="2"/></g></svg>
  <div class="mt" style="left:46px;top:468px">Meetings</div>
  <svg class="chev" style="top:471px" width="6" height="8" viewBox="0 0 6 8"><path d="M5 0.8 L1.2 4 L5 7.2" fill="none" stroke="#5b5f66" stroke-width="1.5"/></svg>

  <svg class="ic" style="left:25px;top:515px" width="14" height="12" viewBox="0 0 14 12"><rect x="0" y="2.5" width="14" height="9.5" rx="1.5" fill="#8e6030"/><path d="M4.5 2.5 V1 H9.5 V2.5" fill="none" stroke="#8e6030" stroke-width="1.6"/><rect x="3" y="2.5" width="1" height="9.5" fill="#1b2129"/><rect x="10" y="2.5" width="1" height="9.5" fill="#1b2129"/></svg>
  <div class="mt" style="left:47px;top:514px">Field Work</div>
  <svg class="chev" style="top:517px" width="6" height="8" viewBox="0 0 6 8"><path d="M5 0.8 L1.2 4 L5 7.2" fill="none" stroke="#5b5f66" stroke-width="1.5"/></svg>

  <svg class="ic" style="left:24px;top:562px" width="13" height="14" viewBox="0 0 13 14"><rect x="1" y="1" width="11" height="12" fill="none" stroke="#8e6030" stroke-width="1.8"/><circle cx="6.5" cy="5.5" r="2" fill="#8e6030"/><path d="M3 11 Q3 8 6.5 8 Q10 8 10 11 Z" fill="#8e6030"/></svg>
  <div class="mt" style="left:46px;top:561px">Phone Book</div>

  <svg class="ic" style="left:25px;top:606px" width="14" height="14" viewBox="0 0 14 14"><path d="M13 1 L1 6.5 L5.5 8.5 L7.5 13 Z M13 1 L5.5 8.5" fill="none" stroke="#9b8f93" stroke-width="1.6" stroke-linejoin="round"/></svg>
  <div class="mt" style="left:47px;top:607px;font-weight:bold;color:#9a8f93;letter-spacing:-0.3px;font-size:13.5px;-webkit-text-stroke:0">Bulk SMS</div>

  <svg class="ic" style="left:25px;top:653px" width="13" height="14" viewBox="0 0 13 14"><path d="M2 10.5 Q3 9 3 6 Q3 2 6.5 2 Q10 2 10 6 Q10 9 11 10.5 Z" fill="none" stroke="#6b6f76" stroke-width="1.4" stroke-linejoin="round"/><path d="M5 12 Q6.5 14 8 12" fill="none" stroke="#6b6f76" stroke-width="1.3"/><rect x="6" y="0.5" width="1" height="1.5" fill="#6b6f76"/></svg>
  <div class="mt" style="left:47px;top:654px">Notification</div>

  <svg class="ic" style="left:25px;top:701px" width="12" height="14" viewBox="0 0 12 14"><ellipse cx="6" cy="2.5" rx="6" ry="2.5" fill="#8e2a35"/><path d="M0 4 Q6 7.5 12 4 V7 Q6 10.5 0 7 Z" fill="#8e2a35"/><path d="M0 8.5 Q6 12 12 8.5 V11.5 Q6 15 0 11.5 Z" fill="#8e2a35"/></svg>
  <div class="mt" style="left:45px;top:700px">Support</div>
</div>

<!-- HEADER -->
<div id="hdr" class="a">
  <div class="a" style="left:20px;top:14px;width:38px;height:30px;background:#7e2a35;border-radius:3px"></div>
  <div class="a" style="left:33px;top:24px;width:12px;height:2px;background:#9d8a8e"></div>
  <div class="a" style="left:33px;top:28px;width:12px;height:2px;background:#9d8a8e"></div>
  <div class="a" style="left:33px;top:32px;width:12px;height:2px;background:#9d8a8e"></div>
  <div class="t" style="left:75px;top:23px;font-size:15px;color:#585b61">Search for something...</div>
</div>
<div id="wel" class="a">
  <div class="t" style="left:35px;top:31px;font-size:28px;color:#565a60;transform:scaleX(0.924);transform-origin:0 0">Welcome to Election Diary</div>
  <div class="t" style="left:35px;top:69px;font-size:12px;font-weight:bold;color:#2f4a70">Assembly: Fatehpur - 32</div>
</div>

<!-- STAT CARDS -->
<div class="card" style="left:245px;top:195px;width:439px;height:110px"></div>
<div class="card" style="left:245px;top:331px;width:439px;height:110px"></div>
<div class="card" style="left:245px;top:467px;width:439px;height:110px"></div>
<div class="t" style="left:265px;top:213px;font-size:30px;color:#4e5258">228661</div>
<div class="t" style="left:265px;top:251px;font-size:12px;font-weight:bold;color:#0a0a0a">TOTAL VOTER</div>
<div class="t" style="left:374px;top:250px;font-size:13px;font-weight:bold;color:#2b7834">100%</div>
<div class="t" style="left:265px;top:349px;font-size:30px;color:#4e5258">239</div>
<div class="t" style="left:265px;top:387px;font-size:12px;font-weight:bold;color:#0a0a0a">TOTAL BOOTH</div>
<div class="t" style="left:377px;top:386px;font-size:13px;font-weight:bold;color:#8a2036">0.10%</div>
<div class="t" style="left:265px;top:485px;font-size:30px;color:#4e5258">1389</div>
<div class="t" style="left:265px;top:523px;font-size:12px;font-weight:bold;color:#0a0a0a">TOTAL COLONY</div>
<div class="t" style="left:384px;top:522px;font-size:13px;font-weight:bold;color:#3a3a8a">0.61%</div>
<svg class="a" style="left:0;top:0" width="1366" height="768">
  <polyline points="258.0,277.0 491.3,277.0 497.2,274.5 503.3,277.0 515.4,277.0 521.4,266.0 527.5,277.0 533.1,277.0 539.3,267.7 545.2,277.0 550.9,267.7 557.3,277.0 569.4,277.0 575.0,275.4 581.1,277.0 587.1,269.3 593.2,277.0 599.2,266.4 605.1,277.0 611.2,277.0 617.2,269.6 623.3,277.0 670.8,277.0" fill="none" stroke="#4f5a66" stroke-width="1.9" stroke-linejoin="round"/>
  <polyline points="258.0,412.7 317.8,412.7 323.4,405.4 329.2,411.5 335.6,410.6 341.5,412.7 491.1,412.7 497.4,404.8 503.4,412.7 515.6,412.7 521.4,406.5 527.3,412.7 533.3,412.7 539.1,406.5 545.0,412.7 551.0,412.7 557.3,404.8 563.5,412.7 576.2,412.7 581.2,411.3 586.3,412.7 593.8,412.7 599.4,409.0 604.8,412.7 611.5,411.5 617.4,412.7 670.8,412.7" fill="none" stroke="#4f5a66" stroke-width="1.9" stroke-linejoin="round"/>
  <polyline points="258.0,548.9 401.6,548.9 407.5,541.6 413.4,548.9 419.4,548.9 425.3,546.8 431.2,548.9 491.1,548.9 497.4,539.8 503.4,548.9 509.2,541.5 515.6,548.3 521.4,547.0 532.4,548.9 539.1,546.5 545.0,548.9 557.3,544.4 563.5,548.9 575.2,548.9 581.2,547.5 588.0,548.9 605.1,548.9 611.2,544.4 617.4,548.9 635.1,548.9 641.3,541.5 647.4,548.9 670.8,548.9" fill="none" stroke="#4f5a66" stroke-width="1.9" stroke-linejoin="round"/>
  <path fill="#2b7834" d="M412.6 249.1 L417.1 249.1 L415.3 253.4 L419.0 253.2 L414.1 262.9 L415.1 256.7 L411.2 256.7Z"/>
  <path fill="#8a2036" d="M420.6 385.1 L425.1 385.1 L423.3 389.4 L427.0 389.2 L422.1 398.9 L423.1 392.7 L419.2 392.7Z"/>
  <path fill="#3a3a8a" d="M427.3 521.1 L431.8 521.1 L430.0 525.4 L433.7 525.2 L428.8 534.9 L429.8 528.7 L425.9 528.7Z"/>
  <g fill="#8a2525"><rect x="654" y="289" width="1" height="11"/><rect x="654" y="299" width="15" height="1"/><rect x="657" y="295" width="2" height="4"/><rect x="660" y="292" width="2" height="7"/><rect x="663" y="294" width="2" height="5"/><rect x="666" y="291" width="2" height="8"/></g>
</svg>

<!-- RED CARDS right col -->
<div class="red" style="left:714px;top:195px;width:252px;height:98px"></div>
<div class="red" style="left:714px;top:320px;width:252px;height:98px"></div>
<div class="red" style="left:714px;top:445px;width:252px;height:98px"></div>
<div class="t" style="left:735px;top:214px;font-size:29px;color:#9a9a9a">36</div>
<div class="t" style="left:735px;top:250px;font-size:13px;font-weight:bold;color:#9a9a9a">18th</div>
<div class="t" style="left:735px;top:339px;font-size:29px;color:#9a9a9a">98</div>
<div class="t" style="left:735px;top:375px;font-size:13px;font-weight:bold;color:#9a9a9a">25th</div>
<div class="t" style="left:735px;top:464px;font-size:29px;color:#9a9a9a">94</div>
<div class="t" style="left:735px;top:500px;font-size:13px;font-weight:bold;color:#9a9a9a">40th</div>
<div class="red" style="left:1250px;top:445px;width:91px;height:97px"></div>

<!-- bottom cards -->
<div class="red" style="left:245px;top:603px;width:252px;height:98px"></div>
<div class="red" style="left:245px;top:727px;width:252px;height:98px"></div>
<div class="t" style="left:265px;top:621px;font-size:29px;color:#9a9a9a">0</div>
<div class="t" style="left:265px;top:656px;font-size:15px;font-weight:bold;color:#9a9a9a">Mobile Updated</div>
<div class="t" style="left:431px;top:660px;font-size:13px;font-weight:bold;color:#9a9a9a">0.00%</div>
<div class="t" style="left:265px;top:745px;font-size:29px;color:#9a9a9a">0</div>
<svg class="a" style="left:455px;top:618px" width="30" height="40" viewBox="0 0 30 40">
  <rect x="5" y="5" width="17" height="28" rx="2.5" fill="#9a9a9a"/><rect x="7" y="10" width="13" height="17" fill="#6a1c2a"/><circle cx="13.5" cy="30" r="1.3" fill="#6a1c2a"/><rect x="11" y="7" width="5" height="1" fill="#6a1c2a"/>
  
</svg>
<svg class="a" style="left:0;top:0" width="500" height="768"><path d="M470.5 660.4 L474.8 660.4 L473.1 664.4 L476.6 664.2 L472.0 673.2 L472.9 667.5 L469.2 667.5Z" fill="#9a9a9a"/>
  <rect x="432" y="744" width="45" height="30" fill="#9a9a9a"/><rect x="435" y="749" width="39" height="25" fill="#691b33"/><circle cx="445" cy="758" r="3.5" fill="#9a9a9a"/><path d="M438 774 Q438 763 445 763 Q452 763 452 774Z" fill="#9a9a9a"/><rect x="455" y="753" width="16" height="3" fill="#9a9a9a"/><rect x="455" y="759" width="16" height="3" fill="#9a9a9a"/><rect x="455" y="765" width="16" height="3" fill="#9a9a9a"/>
</svg>

<!-- background chart card -->
<div class="card" style="left:512px;top:602px;width:900px;height:200px;background:#818181;border-radius:0"></div>
<svg class="a" style="left:0;top:0" width="1366" height="768">
  <g stroke="#6c6c6c" stroke-width="1"><line x1="602" y1="618.5" x2="1340" y2="618.5"/><line x1="602" y1="680.5" x2="1340" y2="680.5"/><line x1="602" y1="742.5" x2="1340" y2="742.5"/></g>
  <g font-family="Liberation Sans" font-size="12.5" fill="#111" text-anchor="end"><text x="596" y="623">250,000</text><text x="596" y="685">200,000</text><text x="596" y="747">150,000</text></g>
  <path d="M610 768 V649 Q610 645 614 645 H641 Q645 645 645 649 V768 Z" fill="#355a6e"/>
  <clipPath id="bc"><rect x="610" y="640" width="35.4" height="40"/></clipPath><text x="627.5" y="665" font-family="Liberation Sans" font-size="13" fill="#9aa9b3" text-anchor="middle" clip-path="url(#bc)">228444</text>
</svg>

<!-- MODAL -->
<div id="modal" class="a">
  <div id="mh" class="a">
    <svg class="a" style="left:234px;top:35px" width="98" height="73" viewBox="234 35 98 73">
      <g fill="#e2e2e2"><rect x="234.6" y="35.7" width="6.7" height="72.1"/><rect x="234.6" y="102" width="96.8" height="5.8"/><rect x="252.6" y="72" width="12.5" height="23.7"/><rect x="270.6" y="48" width="12.7" height="47.7"/><rect x="288.6" y="60" width="12.6" height="35.7"/><rect x="306.7" y="41.9" width="12.6" height="53.8"/></g>
    </svg>
    <div class="t" style="left:158px;top:120px;font-size:26px;color:#fff;-webkit-text-stroke:0.7px #fff;transform:scaleX(0.9324);transform-origin:0 0">GENDER WISE VOTER</div>
    <div class="t" style="left:71px;top:155px;font-size:11px;color:#fdf6ee;-webkit-text-stroke:0.35px #fdf6ee;letter-spacing:0.43px;transform-origin:0 0">Graphical interface of filtered data. From this report we can compare many centers</div>
    <div class="t" style="left:551px;top:30px;font-size:18px;font-weight:bold;color:#c68a47">&times;</div>
  </div>
  <svg class="a" style="left:0;top:0" width="578" height="760" viewBox="760 11 578 760">
    <g stroke="#d9d9d9" stroke-width="1"><line x1="884.6" y1="270.5" x2="1277.5" y2="270.5"/><line x1="884.6" y1="325.5" x2="1277.5" y2="325.5"/><line x1="884.6" y1="380.5" x2="1277.5" y2="380.5"/><line x1="884.6" y1="434.5" x2="1277.5" y2="434.5"/><line x1="884.6" y1="489.5" x2="1277.5" y2="489.5"/><line x1="884.6" y1="543.5" x2="1277.5" y2="543.5"/><line x1="884.6" y1="598.5" x2="1277.5" y2="598.5"/></g>
    <line x1="884.6" y1="652.5" x2="1277.5" y2="652.5" stroke="#b0b0b0"/>
    <g font-family="Liberation Sans" font-size="12.5" fill="#222" text-anchor="end"><text x="875" y="275">140,000</text><text x="875" y="330">120,000</text><text x="875" y="384">100,000</text><text x="875" y="439">80,000</text><text x="875" y="494">60,000</text><text x="875" y="548">40,000</text><text x="875" y="603">20,000</text><text x="875" y="657">0</text></g>
    <path d="M1028.8 652.3 V362.8 Q1028.8 355.8 1035.8 355.8 H1126.6 Q1133.6 355.8 1133.6 362.8 V652.3 Z" fill="#6994dc"/>
    <path d="M1160.3 652.3 V333.6 Q1160.3 326.6 1167.3 326.6 H1258 Q1265 326.6 1265 333.6 V652.3 Z" fill="#68b5dc"/>
    <g font-family="Liberation Sans" font-size="13" fill="#222" text-anchor="middle"><text x="950.5" y="638">0</text><text x="1081.5" y="341">108982</text><text x="1212.8" y="312">119679</text><text x="950.3" y="676">Third Gender</text><text x="1081.2" y="676">Female</text><text x="1212.6" y="676">Male</text></g>
    <path d="M796 725 H808 C811 725 813 716 816 716 C818.5 716 819 720 820.4 720 C822 720 823 716 825 716 C828 716 830 725 833 725 H840" fill="none" stroke="#dadada" stroke-width="1.6"/><path d="M786 725 H796 C800 725 803 713.4 807 713.4 C811 713.4 814 725 818 725 H832" fill="none" stroke="#bcbcbc" stroke-width="1.6"/>
  </svg>
  <div class="a" style="left:0;top:741px;width:578px;height:15px;background:#fff"></div><div class="a" style="left:0;top:756px;width:578px;height:1px;background:#e5e5e5"></div>
</div>

<!-- scrollbar -->
<div id="sb" class="a">
  <div class="a" style="left:2px;top:17px;width:13px;height:591px;background:#c1c1c1"></div>
  <div class="a" style="left:4px;top:7px;width:0;height:0;border-left:4px solid transparent;border-right:4px solid transparent;border-bottom:4px solid #a3a3a3"></div>
  <div class="a" style="left:4px;top:757px;width:0;height:0;border-left:4px solid transparent;border-right:4px solid transparent;border-top:4px solid #505050"></div>
</div>
</body></html>
